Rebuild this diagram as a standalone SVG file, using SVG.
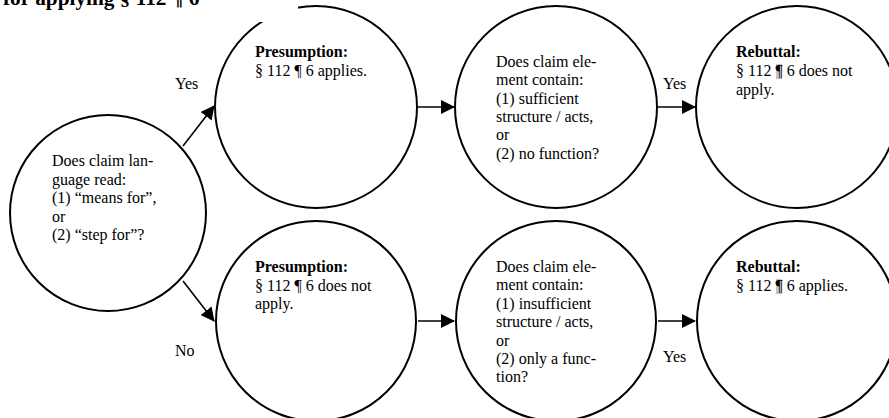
<svg xmlns="http://www.w3.org/2000/svg" width="889" height="418" viewBox="0 0 889 418">
  <style>
    .node circle { fill: #fff; stroke: #000; stroke-width: 2; }
    text { font-family: "Liberation Serif", "Times New Roman", serif; font-size: 16px; fill: #000; }
    .b { font-weight: bold; }
    .title { font-weight: bold; font-size: 21.3px; }
    .edge { stroke: #000; stroke-width: 1.6; fill: none; marker-end: url(#ah); }
    .mark { fill: #c4c4c4; }
  </style>
  <defs>
    <marker id="ah" viewBox="0 0 14 14" refX="13" refY="7" markerWidth="14" markerHeight="14" orient="auto" markerUnits="userSpaceOnUse">
      <path d="M0,0 L14,7 L0,14 z" fill="#000"/>
    </marker>
  </defs>
  <rect width="889" height="418" fill="#fff"/>

  <g id="connectors">
    <line class="edge" x1="183" y1="146" x2="214" y2="106"/>
    <line class="edge" x1="183" y1="281" x2="214" y2="321"/>
    <line class="edge" x1="418" y1="107" x2="454" y2="107"/>
    <line class="edge" x1="658" y1="107" x2="695" y2="107"/>
    <line class="edge" x1="418" y1="321" x2="454" y2="321"/>
    <line class="edge" x1="658" y1="321" x2="695" y2="321"/>
    <text x="175" y="89">Yes</text>
    <text x="175" y="356">No</text>
    <text x="663" y="89">Yes</text>
    <text x="663" y="362">Yes</text>
  </g>

  <g id="q-means" class="node">
    <circle cx="108" cy="213" r="98"/>
    <text x="52" y="166">
      <tspan x="52">Does claim lan-</tspan>
      <tspan x="52" dy="18.5">guage read:</tspan>
      <tspan x="52" dy="18.5">(1) “means for”,</tspan>
      <tspan x="52" dy="18.5">or</tspan>
      <tspan x="52" dy="18.5">(2) “step for”?</tspan>
    </text>
  </g>

  <g id="presume-applies" class="node">
    <circle cx="316" cy="107" r="101"/>
    <text x="255" y="57">
      <tspan x="255" class="b">Presumption:</tspan>
      <tspan x="255" dy="19">§ 112 ¶ 6 applies.</tspan>
    </text>
  </g>

  <g id="q-sufficient" class="node">
    <circle cx="556" cy="107" r="101"/>
    <text x="496" y="67">
      <tspan x="496">Does claim ele-</tspan>
      <tspan x="496" dy="18.3">ment contain:</tspan>
      <tspan x="496" dy="18.3">(1) sufficient</tspan>
      <tspan x="496" dy="18.3">structure / acts,</tspan>
      <tspan x="496" dy="18.3">or</tspan>
      <tspan x="496" dy="18.3">(2) no function?</tspan>
    </text>
  </g>

  <g id="rebut-not-apply" class="node">
    <circle cx="797" cy="107" r="101"/>
    <rect class="mark" x="776" y="64" width="6" height="15"/>
    <text x="736" y="57">
      <tspan x="736" class="b">Rebuttal:</tspan>
      <tspan x="736" dy="19">§ 112 ¶ 6 does not</tspan>
      <tspan x="736" dy="19">apply.</tspan>
    </text>
  </g>

  <g id="presume-not-apply" class="node">
    <circle cx="316" cy="321" r="100"/>
    <text x="255" y="272">
      <tspan x="255" class="b">Presumption:</tspan>
      <tspan x="255" dy="18.5">§ 112 ¶ 6 does not</tspan>
      <tspan x="255" dy="18.5">apply.</tspan>
    </text>
  </g>

  <g id="q-insufficient" class="node">
    <circle cx="556" cy="321" r="100"/>
    <text x="496" y="272">
      <tspan x="496">Does claim ele-</tspan>
      <tspan x="496" dy="18.4">ment contain:</tspan>
      <tspan x="496" dy="18.4">(1) insufficient</tspan>
      <tspan x="496" dy="18.4">structure / acts,</tspan>
      <tspan x="496" dy="18.4">or</tspan>
      <tspan x="496" dy="18.4">(2) only a func-</tspan>
      <tspan x="496" dy="18.4">tion?</tspan>
    </text>
  </g>

  <g id="rebut-applies" class="node">
    <circle cx="797" cy="321" r="100"/>
    <rect class="mark" x="776" y="279" width="6" height="15"/>
    <text x="736" y="272">
      <tspan x="736" class="b">Rebuttal:</tspan>
      <tspan x="736" dy="18.5">§ 112 ¶ 6 applies.</tspan>
    </text>
  </g>

  <g id="title">
    <rect x="0" y="0" width="298" height="22" fill="#fff"/>
    <text class="title" x="3" y="4.5">for applying § 112 ¶ 6</text>
  </g>
</svg>
